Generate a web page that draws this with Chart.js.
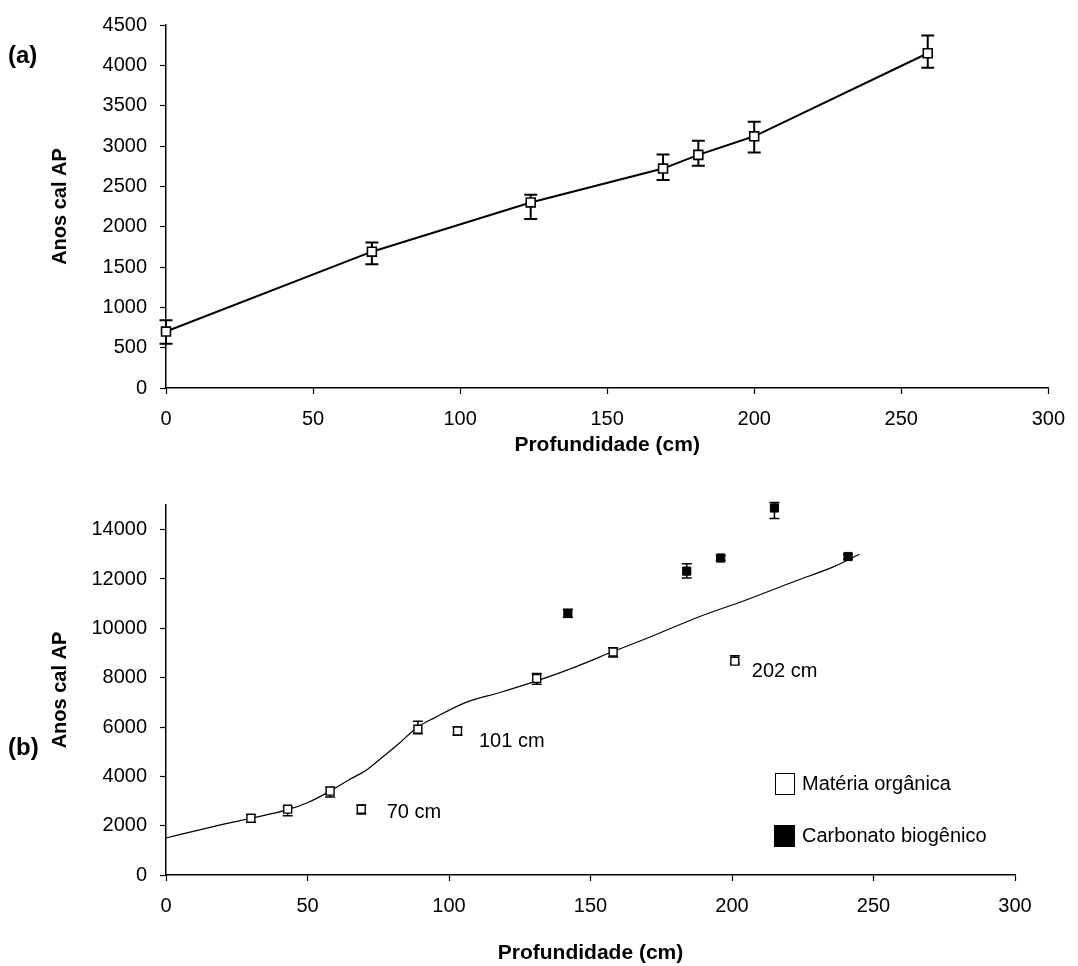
<!DOCTYPE html>
<html>
<head>
<meta charset="utf-8">
<script src="https://cdn.jsdelivr.net/npm/chart.js@4/dist/chart.umd.min.js"></script>
<style>
  body { margin: 0; background: #fff; }
  #chartA { position: absolute; left: 0; top: 0; }
  #chartB { position: absolute; left: 0; top: 480px; }
</style>
</head>
<body>
<canvas id="chartA" width="1078" height="480"></canvas>
<canvas id="chartB" width="1078" height="486"></canvas>
<script>
// (a) idades calibradas
const depthA   = [0, 70, 124, 169, 181, 200, 259];
const ageA     = [700, 1690, 2300, 2720, 2890, 3120, 4150];
const errUpA   = [140, 115, 95, 175, 175, 180, 220];
const errDownA = [150, 155, 205, 140, 135, 200, 180];
const xTicks   = [0, 50, 100, 150, 200, 250, 300];
const yTicksA  = [0, 500, 1000, 1500, 2000, 2500, 3000, 3500, 4000, 4500];

// (b) matéria orgânica
const depthMO   = [30, 43, 58, 69, 89, 103, 131, 158, 201];
const ageMO     = [2300, 2670, 3400, 2670, 5910, 5840, 7970, 9040, 8670];
const errUpMO   = [140, 80, 160, 170, 320, 160, 200, 170, 220];
const errDownMO = [160, 270, 240, 200, 180, 170, 240, 200, 120];

// (b) carbonato biogênico
const depthCB   = [142, 184, 196, 215, 241];
const ageCB     = [10600, 12320, 12850, 14880, 12910];
const errUpCB   = [170, 300, 100, 220, 100];
const errDownCB = [150, 280, 100, 430, 100];

// (b) modelo idade-profundidade
const curveDepth = [0, 10, 20, 30, 43, 50, 58, 65, 71, 76, 82, 89, 95, 106, 118, 131, 145, 158, 170, 188, 205, 222, 236, 245];
const curveAge   = [1500, 1780, 2050, 2300, 2650, 2930, 3400, 3880, 4270, 4730, 5300, 6000, 6380, 7000, 7400, 7870, 8450, 9060, 9600, 10450, 11150, 11900, 12500, 13000];
const yTicksB    = [0, 2000, 4000, 6000, 8000, 10000, 12000, 14000];

// rótulos das amostras rejeitadas
const noteText  = ['70 cm', '101 cm', '202 cm'];
const noteDepth = [78, 110.6, 207];
const noteAge   = [2530, 5400, 8270];

const FONT = "'Liberation Sans', Arial, sans-serif";

const pts = (xs, ys) => xs.map((x, i) => ({ x, y: ys[i] }));

const errorBars = {
  id: 'errorBars',
  beforeDatasetsDraw(chart, args, opts) {
    const { ctx, scales: { x, y } } = chart;
    chart.data.datasets.forEach(ds => {
      if (!ds.errUp) return;
      ctx.save();
      ctx.strokeStyle = '#000';
      ctx.lineWidth = opts.width;
      ds.data.forEach((p, j) => {
        const px = x.getPixelForValue(p.x);
        const top = y.getPixelForValue(p.y + ds.errUp[j]);
        const bot = y.getPixelForValue(p.y - ds.errDown[j]);
        ctx.beginPath();
        ctx.moveTo(px, top); ctx.lineTo(px, bot);
        ctx.moveTo(px - opts.cap, top); ctx.lineTo(px + opts.cap, top);
        ctx.moveTo(px - opts.cap, bot); ctx.lineTo(px + opts.cap, bot);
        ctx.stroke();
      });
      ctx.restore();
    });
  }
};

const notes = {
  id: 'notes',
  afterDraw(chart, args, opts) {
    const { ctx, scales: { x, y } } = chart;
    ctx.save();
    ctx.fillStyle = '#000';
    ctx.textAlign = 'left';
    ctx.textBaseline = 'middle';
    (opts.items || []).forEach(it => {
      ctx.font = it.font;
      const px = it.dx !== undefined ? x.getPixelForValue(it.dx) : it.px;
      const py = it.dy !== undefined ? y.getPixelForValue(it.dy) : it.py;
      ctx.fillText(it.text, px, py);
    });
    (opts.boxes || []).forEach(b => {
      ctx.fillStyle = b.fill;
      ctx.fillRect(b.px, b.py, b.w, b.h);
      ctx.strokeStyle = '#000';
      ctx.lineWidth = 1;
      ctx.strokeRect(b.px + 0.5, b.py + 0.5, b.w - 1, b.h - 1);
    });
    ctx.restore();
  }
};

function xScale(padTop) {
  return {
    type: 'linear', min: 0, max: 300,
    afterFit: s => { s.height = padTop; },
    afterBuildTicks: s => { s.ticks = xTicks.map(v => ({ value: v })); },
    grid: { drawOnChartArea: false, color: '#000', tickLength: 6, tickWidth: 1.2 },
    border: { color: '#000', width: 1.5 },
    ticks: { color: '#000', font: { family: FONT, size: 20 }, padding: 13, maxRotation: 0,
             callback: v => String(v) },
    title: { display: true, text: 'Profundidade (cm)', color: '#000',
             font: { family: FONT, size: 21, weight: 'bold' } }
  };
}

function yScale(max, tickList) {
  return {
    type: 'linear', min: 0, max,
    afterFit: s => { s.width = 166; },
    afterBuildTicks: s => { s.ticks = tickList.map(v => ({ value: v })); },
    grid: { drawOnChartArea: false, color: '#000', tickLength: 6, tickWidth: 1.2 },
    border: { color: '#000', width: 1.5 },
    ticks: { color: '#000', font: { family: FONT, size: 20 }, padding: 13,
             callback: v => String(v) },
    title: { display: true, text: 'Anos cal AP', color: '#000',
             font: { family: FONT, size: 20, weight: 'bold' }, padding: { top: 48, bottom: 0 } }
  };
}

// ---- (a)
const scalesA = { x: xScale(92), y: yScale(4500, yTicksA) };
scalesA.x.title.padding = { top: 0, bottom: 22 };

new Chart(document.getElementById('chartA'), {
  type: 'scatter',
  data: {
    datasets: [{
      data: pts(depthA, ageA),
      errUp: errUpA,
      errDown: errDownA,
      showLine: true,
      borderColor: '#000',
      borderWidth: 2,
      pointStyle: 'rect',
      pointRadius: 6.3,
      pointBackgroundColor: '#fff',
      pointBorderColor: '#000',
      pointBorderWidth: 1.6,
      clip: false
    }]
  },
  options: {
    responsive: false,
    animation: false,
    layout: { padding: { left: 0, right: 20, top: 24, bottom: 0 } },
    scales: scalesA,
    plugins: {
      legend: { display: false },
      tooltip: { enabled: false },
      errorBars: { width: 2, cap: 6.5 },
      notes: { items: [{ text: '(a)', px: 8, py: 56, font: 'bold 24px ' + FONT }] }
    }
  },
  plugins: [errorBars, notes]
});

// ---- (b)
const scalesB = { x: xScale(91), y: yScale(15000, yTicksB) };
scalesB.x.title.padding = { top: 0, bottom: 0 };

new Chart(document.getElementById('chartB'), {
  type: 'scatter',
  data: {
    datasets: [
      {
        label: 'Carbonato biogênico',
        data: pts(depthCB, ageCB),
        errUp: errUpCB,
        errDown: errDownCB,
        pointStyle: 'rect',
        pointRadius: 5.8,
        pointBackgroundColor: '#000',
        pointBorderColor: '#000',
        pointBorderWidth: 1,
        clip: false
      },
      {
        label: 'Matéria orgânica',
        data: pts(depthMO, ageMO),
        errUp: errUpMO,
        errDown: errDownMO,
        pointStyle: 'rect',
        pointRadius: 5.6,
        pointBackgroundColor: '#fff',
        pointBorderColor: '#000',
        pointBorderWidth: 1.4,
        clip: false
      },
      {
        label: 'modelo',
        data: pts(curveDepth, curveAge),
        showLine: true,
        borderColor: '#000',
        borderWidth: 1.2,
        pointRadius: 0,
        cubicInterpolationMode: 'monotone',
        clip: false
      }
    ]
  },
  options: {
    responsive: false,
    animation: false,
    layout: { padding: { left: 0, right: 63, top: 21, bottom: 0 } },
    scales: scalesB,
    plugins: {
      legend: { display: false },
      tooltip: { enabled: false },
      errorBars: { width: 1.5, cap: 5 },
      notes: {
        items: [
          { text: '(b)', px: 8, py: 268, font: 'bold 24px ' + FONT },
          ...noteText.map((t, i) => ({ text: t, dx: noteDepth[i], dy: noteAge[i], font: '20px ' + FONT })),
          { text: 'Matéria orgânica', px: 802, py: 304, font: '20px ' + FONT },
          { text: 'Carbonato biogênico', px: 802, py: 356, font: '20px ' + FONT }
        ],
        boxes: [
          { px: 775, py: 293, w: 20, h: 22, fill: '#fff' },
          { px: 774, py: 345, w: 21, h: 22, fill: '#000' }
        ]
      }
    }
  },
  plugins: [errorBars, notes]
});
</script>
</body>
</html>
